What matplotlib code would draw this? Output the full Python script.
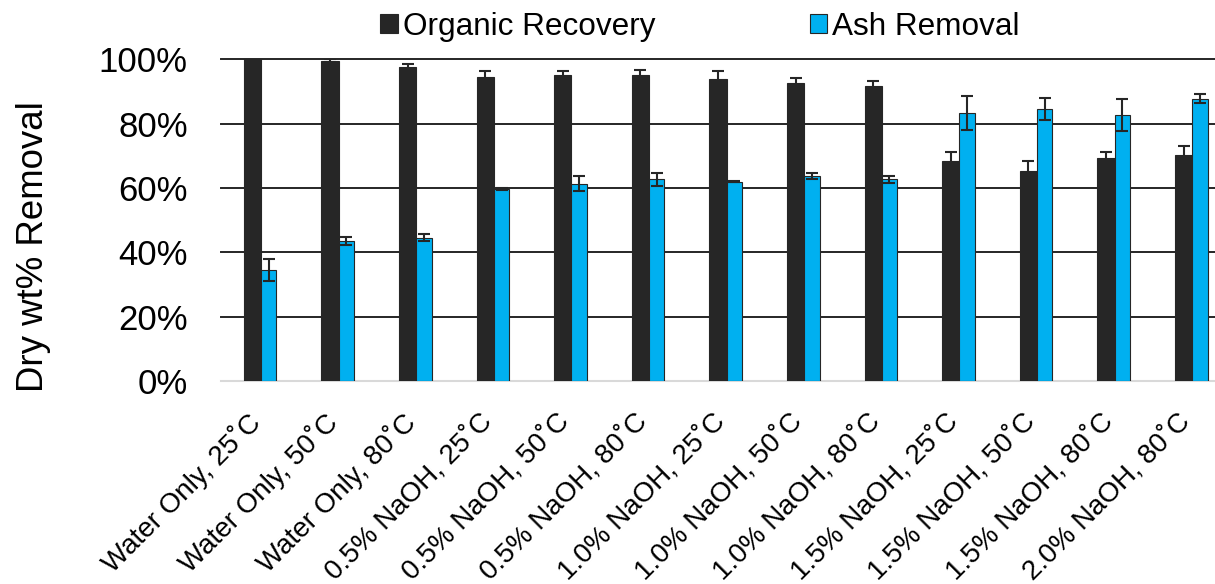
import matplotlib
matplotlib.use("Agg")
import matplotlib.pyplot as plt
from matplotlib.patches import Patch
from matplotlib.ticker import PercentFormatter
from matplotlib.transforms import ScaledTranslation
import numpy as np

plt.rcParams['font.family'] = ['Liberation Sans', 'DejaVu Sans']

categories = [
    "Water Only, 25\u02daC", "Water Only, 50\u02daC", "Water Only, 80\u02daC",
    "0.5% NaOH, 25\u02daC", "0.5% NaOH, 50\u02daC", "0.5% NaOH, 80\u02daC",
    "1.0% NaOH, 25\u02daC", "1.0% NaOH, 50\u02daC", "1.0% NaOH, 80\u02daC",
    "1.5% NaOH, 25\u02daC", "1.5% NaOH, 50\u02daC", "1.5% NaOH, 80\u02daC",
    "2.0% NaOH, 80\u02daC",
]
organic_recovery = [100.0, 99.5, 97.7, 94.6, 95.2, 95.0, 93.8, 92.6, 91.6, 68.4, 65.2, 69.4, 70.2]
organic_err = [0.0, 0.5, 0.9, 1.8, 1.2, 1.6, 2.5, 1.5, 1.7, 2.8, 3.3, 1.8, 3.0]
ash_removal = [34.5, 43.6, 44.5, 59.7, 61.3, 62.7, 62.0, 63.8, 62.7, 83.3, 84.5, 82.7, 87.7]
ash_err = [3.4, 1.2, 1.1, 0.3, 2.3, 2.0, 0.2, 1.0, 1.0, 5.3, 3.4, 4.9, 1.4]

dark = "#262626"
blue = "#00B0F0"

W, H = 1215, 584
fig = plt.figure(figsize=(W / 100, H / 100), dpi=100)
ax = fig.add_axes([221 / W, 1 - 381 / H, 1 - 221 / W, (381 - 59.3) / H])

x = np.arange(len(categories))
w_org, w_ash = 0.22, 0.2
err_kw = dict(ecolor=dark, elinewidth=1.5, capsize=4.2, capthick=1.5)
ax.bar(x, organic_recovery, width=-w_org, align='edge', color=dark,
       edgecolor=dark, linewidth=0.8, zorder=2)
ax.errorbar(x - w_org / 2, organic_recovery, yerr=organic_err, fmt='none', zorder=3, **err_kw)
ax.bar(x, ash_removal, width=w_ash, align='edge', color=blue,
       edgecolor=dark, linewidth=0.8, zorder=2)
ax.errorbar(x + w_ash / 2, ash_removal, yerr=ash_err, fmt='none', zorder=3, **err_kw)

ax.set_xlim(-0.515, 12.295)
ax.set_ylim(0, 100)
ax.set_yticks([0, 20, 40, 60, 80, 100])
ax.yaxis.set_major_formatter(PercentFormatter(decimals=0))
ax.yaxis.grid(True, color=dark, linewidth=1.4, clip_on=False)
ax.set_axisbelow(True)
for s in ['top', 'right', 'left']:
    ax.spines[s].set_visible(False)
ax.spines['bottom'].set_color("#D9D9D9")
ax.spines['bottom'].set_linewidth(1.5)
ax.spines['bottom'].set_zorder(1)

ax.tick_params(axis='y', length=0, pad=24, labelsize=25, labelcolor='black')
ax.tick_params(axis='x', length=0, pad=27, labelsize=20, labelcolor='black')
ax.set_xticks(x)
ax.set_xticklabels(categories, rotation=45, ha='right', va='center',
                   rotation_mode='anchor')
shift = ScaledTranslation(-5 / 100, 0, fig.dpi_scale_trans)
for lbl in ax.get_xticklabels():
    lbl.set_transform(lbl.get_transform() + shift)

ax.set_ylabel("Dry wt% Removal", fontsize=26.4, color='black')
ax.yaxis.set_label_coords((51 - 221) / (W - 221), (381 - 247) / (381 - 59.3))

handles = [Patch(facecolor=dark, edgecolor=dark, linewidth=0.8, label="Organic Recovery"),
           Patch(facecolor=blue, edgecolor=dark, linewidth=0.8, label="Ash Removal")]
fig.legend(handles=handles, loc='center', bbox_to_anchor=(700 / W, 1 - 27 / H),
           ncol=2, frameon=False, fontsize=22.7, handlelength=0.55, handleheight=0.55,
           handletextpad=0.16, columnspacing=4.9, borderpad=0, borderaxespad=0)

fig.savefig("out.png", dpi=100)
